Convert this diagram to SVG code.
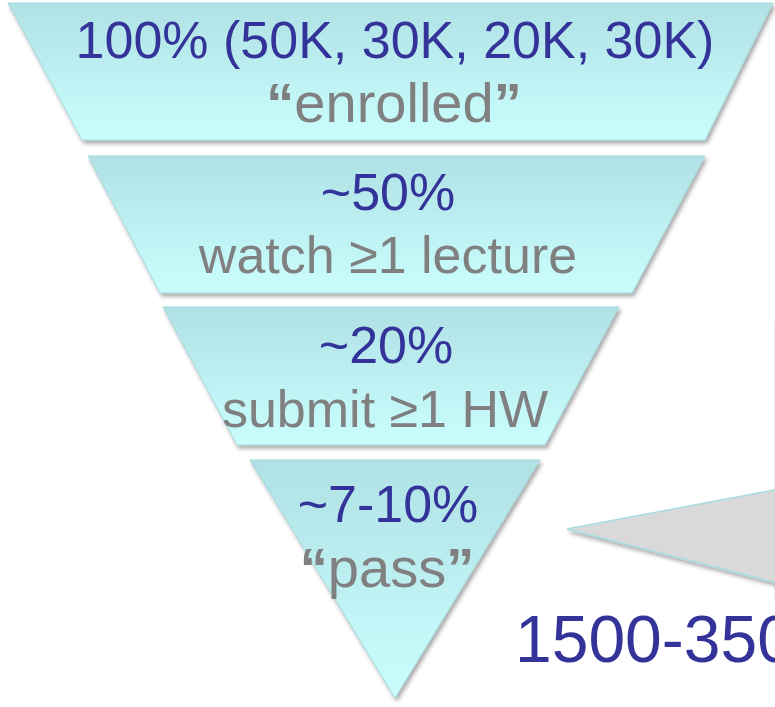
<svg xmlns="http://www.w3.org/2000/svg" width="775" height="707" viewBox="0 0 775 707">
  <defs>
    <linearGradient id="tierFill" x1="0" y1="0" x2="0" y2="1">
      <stop offset="0" stop-color="#B0E1E5"/>
      <stop offset="1" stop-color="#CAFEFE"/>
    </linearGradient>
    <filter id="softShadow" x="-10%" y="-10%" width="120%" height="130%">
      <feDropShadow dx="2" dy="3" stdDeviation="2" flood-color="#000000" flood-opacity="0.35"/>
    </filter>
  </defs>
  <style>
    .tier { fill: url(#tierFill); stroke: #A3D8DC; stroke-width: 1; filter: url(#softShadow); }
    .pct { font-family: "Liberation Sans", Arial, sans-serif; font-size: 52px; fill: #333399; text-anchor: middle; }
    .desc { font-family: "Liberation Sans", Arial, sans-serif; font-size: 52px; fill: #808080; text-anchor: middle; }
    .quoted { font-size: 56px; }
    .qm { font-weight: bold; }
    .callout { fill: #D9D9D9; stroke: #A8DCE0; stroke-width: 1.5; filter: url(#softShadow); }
    .big { font-family: "Liberation Sans", Arial, sans-serif; font-size: 66px; fill: #333399; }
  </style>

  <rect width="775" height="707" fill="#FFFFFF"/>

  <!-- edge of the panel on the right -->
  <line x1="774.5" y1="322" x2="774.5" y2="600" stroke="#EDEDED" stroke-width="1"/>

  <!-- funnel tiers -->
  <g id="tier-enrolled">
    <polygon class="tier" points="8,3 773,3 705,140 82,140"/>
    <text class="pct" x="395" y="58">100% (50K, 30K, 20K, 30K)</text>
    <text class="desc quoted" x="394" y="122"><tspan class="qm">“</tspan>enrolled<tspan class="qm">”</tspan></text>
  </g>

  <g id="tier-watch">
    <polygon class="tier" points="88,156 705,156 632,293 160,293"/>
    <text class="pct" x="388" y="210">~50%</text>
    <text class="desc" x="388" y="273">watch ≥1 lecture</text>
  </g>

  <g id="tier-submit">
    <polygon class="tier" points="163,307 619,307 545,445 237,445"/>
    <text class="pct" x="386" y="363">~20%</text>
    <text class="desc" x="385" y="427">submit ≥1 HW</text>
  </g>

  <g id="tier-pass">
    <polygon class="tier" points="250,460 540,460 395,698"/>
    <text class="pct" x="388" y="522">~7-10%</text>
    <text class="desc quoted" x="387" y="587"><tspan class="qm">“</tspan>pass<tspan class="qm">”</tspan></text>
  </g>

  <!-- pointer from the side panel -->
  <g id="callout">
    <polygon class="callout" points="567,529 785,488 785,585"/>
    <text class="big" x="515" y="662">1500-350</text>
  </g>
</svg>
